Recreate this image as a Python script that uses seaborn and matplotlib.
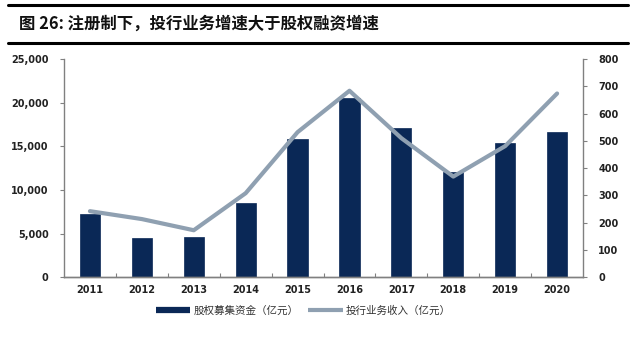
import matplotlib
matplotlib.use("Agg")
import matplotlib.pyplot as plt
import seaborn as sns
import pandas as pd
import numpy as np
from matplotlib.lines import Line2D
from matplotlib.ticker import FuncFormatter, FixedLocator

years = ["2011", "2012", "2013", "2014", "2015", "2016", "2017", "2018", "2019", "2020"]
equity_funds = [7200, 4470, 4580, 8520, 15800, 20600, 17100, 12070, 15400, 16630]
ib_revenue = [242, 213, 172, 308, 532, 684, 510, 369, 481, 674]
bar_label = "股权募集资金（亿元）"
line_label = "投行业务收入（亿元）"
title = "图 26: 注册制下，投行业务增速大于股权融资增速"

sns.set_theme(style="white")
plt.rcParams['font.family'] = ['Noto Sans CJK SC', 'DejaVu Sans']

df = pd.DataFrame({"year": years, "funds": equity_funds, "rev": ib_revenue})

bar_color = "#0A2856"
line_color = "#8FA0B1"
axis_color = "#808080"

fig = plt.figure(figsize=(6.4, 3.4), dpi=100)
ax = fig.add_axes([0.10, 0.185, 0.811, 0.641])
sns.barplot(data=df, x="year", y="funds", color=bar_color, width=0.39,
            saturation=1, ax=ax, edgecolor=bar_color, linewidth=0.5)
ax2 = ax.twinx()
sns.lineplot(data=df, x="year", y="rev", color=line_color, linewidth=3.0, ax=ax2,
             sort=False)

ax.set_xlim(-0.5, len(years) - 0.5)
ax.set_ylim(0, 25000)
ax.set_yticks(np.arange(0, 25001, 5000))
ax.yaxis.set_major_formatter(FuncFormatter(lambda v, p: f"{int(v):,}"))
ax2.set_ylim(0, 800)
ax2.set_yticks(np.arange(0, 801, 100))

for a in (ax, ax2):
    a.set_xlabel("")
    a.set_ylabel("")
    for s in a.spines.values():
        s.set_color(axis_color)
        s.set_linewidth(1.0)
    a.spines["top"].set_visible(False)
ax.spines["right"].set_visible(False)
ax2.spines["left"].set_visible(False)

ax.tick_params(axis="y", which="major", direction="out", length=3, width=0.8,
               color=axis_color, labelsize=7.5, pad=8, left=True)
ax2.tick_params(axis="y", which="major", direction="out", length=3, width=0.8,
                color=axis_color, labelsize=7.5, pad=8, right=True)
ax.tick_params(axis="x", which="major", length=0, labelsize=7.5, pad=6)
ax.xaxis.set_minor_locator(FixedLocator(np.arange(0.5, len(years) - 1, 1.0)))
ax.tick_params(axis="x", which="minor", direction="in", length=3, width=0.8,
               color=axis_color, bottom=True)
for lab in ax.get_xticklabels() + ax.get_yticklabels() + ax2.get_yticklabels():
    lab.set_fontweight("bold")
    lab.set_color("#222222")
    lab.set_family(["DejaVu Sans"])
    lab.set_fontsize(7)
ax.grid(False)
ax2.grid(False)

handles = [Line2D([0], [0], color=bar_color, lw=4.5, solid_capstyle="butt"),
           Line2D([0], [0], color=line_color, lw=3, solid_capstyle="butt")]
leg = fig.legend(handles, [bar_label, line_label], loc="center",
                 bbox_to_anchor=(0.474, 0.087), ncol=2, frameon=False,
                 fontsize=7.6, handlelength=3.3, handletextpad=0.3, columnspacing=0.9)
for t in leg.get_texts():
    t.set_color("#333333")

fig.text(0.03, 0.93, title, fontsize=11.8, fontweight="bold", va="center",
         ha="left", color="#111111")
fig.add_artist(Line2D([0.013, 0.982], [0.985, 0.985], color="black", lw=2.2,
                      transform=fig.transFigure))
fig.add_artist(Line2D([0.013, 0.982], [0.875, 0.875], color="black", lw=2.2,
                      transform=fig.transFigure))

fig.savefig("out.png", dpi=100)
